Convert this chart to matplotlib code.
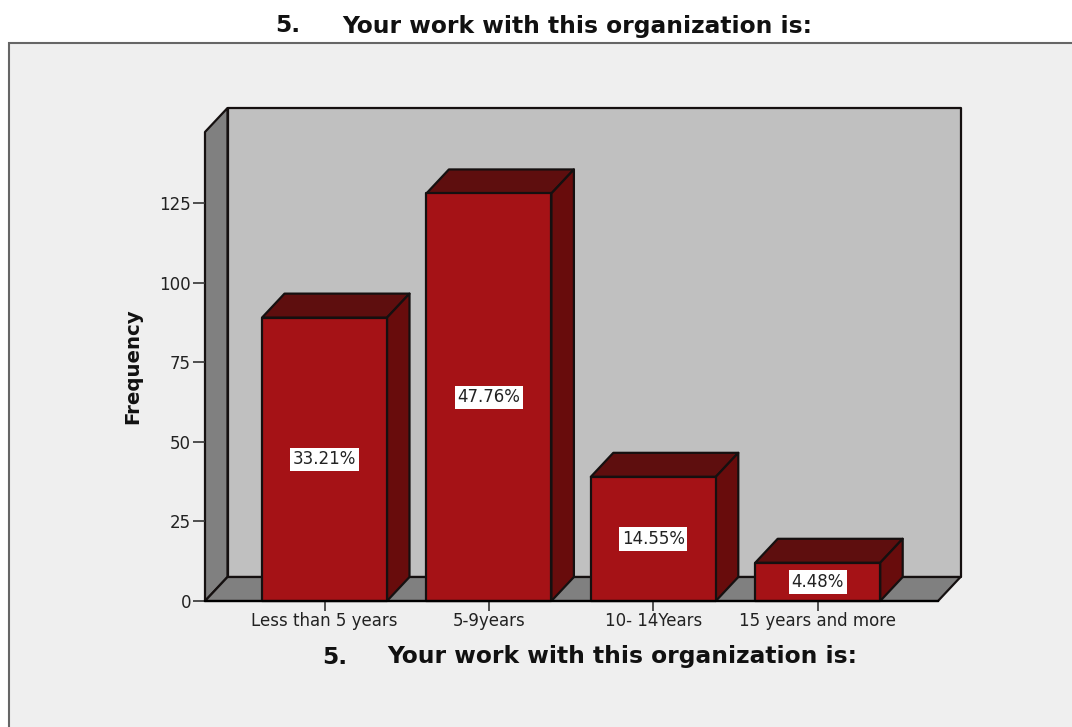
import matplotlib
matplotlib.use("Agg")
import matplotlib.pyplot as plt
from matplotlib.patches import Polygon, Rectangle

plt.rcParams["font.family"] = ["DejaVu Sans"]

categories = ["Less than 5 years", "5-9years", "10- 14Years", "15 years and more"]
frequency = [89, 128, 39, 12]
percent_labels = ["33.21%", "47.76%", "14.55%", "4.48%"]
y_ticks = [0, 25, 50, 75, 100, 125]
title_number = "5."
title_text = "Your work with this organization is:"

W, H = 1072, 727
# front plane of the 3D box, in pixels
left, right, base, top = 205, 938, 601, 132
px_per_unit = 3.184
px_per_cat = 164.4
first_center = 324.5
bar_w = 125 / px_per_cat
dx = 22.5 / px_per_cat
dy = 24 / px_per_unit

ec = "#151010"
red = "#A51216"
red_top = "#5E0E0E"
red_side = "#680C0C"

fig = plt.figure(figsize=(W / 100, H / 100), dpi=100, facecolor="white")

# outer panel
bg = fig.add_axes([0, 0, 1, 1], zorder=0)
bg.set_xlim(0, W)
bg.set_ylim(H, 0)
bg.axis("off")
bg.add_patch(Rectangle((9, 43), W + 20, H, fc="#EFEFEF", ec="#666666", lw=1.5))
bg.text(275, 26, title_number, fontsize=16.8, fontweight="bold", va="center", color="#111111")
bg.text(342, 26, title_text, fontsize=16.8, fontweight="bold", va="center", color="#111111")
bg.text(322, 657, title_number, fontsize=16.8, fontweight="bold", va="center", color="#111111")
bg.text(387, 657, title_text, fontsize=16.8, fontweight="bold", va="center", color="#111111")

ax = fig.add_axes(
    [left / W, 1 - base / H, (right - left) / W, (base - top) / H],
    facecolor="none",
    zorder=1,
)
ax.set_xlim((left - first_center) / px_per_cat, (right - first_center) / px_per_cat)
ax.set_ylim(0, (base - top) / px_per_unit)
x0, x1 = ax.get_xlim()
y1 = ax.get_ylim()[1]


def poly(pts, fc, lw=1.6, z=2):
    ax.add_patch(Polygon(pts, closed=True, fc=fc, ec=ec, lw=lw, zorder=z, clip_on=False, joinstyle="round"))


# box walls
poly([(x0 + dx, dy), (x1 + dx, dy), (x1 + dx, y1 + dy), (x0 + dx, y1 + dy)], "#C0C0C0", z=1)
poly([(x0, 0), (x0 + dx, dy), (x0 + dx, y1 + dy), (x0, y1)], "#808080", z=1)
poly([(x0, 0), (x1, 0), (x1 + dx, dy), (x0 + dx, dy)], "#808080", z=1)

for i, v in enumerate(frequency):
    a, b = i - bar_w / 2, i + bar_w / 2
    poly([(a, v), (b, v), (b + dx, v + dy), (a + dx, v + dy)], red_top, z=3)
    poly([(b, 0), (b + dx, dy), (b + dx, v + dy), (b, v)], red_side, z=3)
    poly([(a, 0), (b, 0), (b, v), (a, v)], red, z=4)
    ax.text(
        i,
        v / 2,
        percent_labels[i],
        ha="center",
        va="center",
        fontsize=12,
        color="#222222",
        zorder=5,
        bbox=dict(boxstyle="square,pad=0.16", fc="white", ec="none"),
    )

ax.set_xticks(range(len(categories)))
ax.set_xticklabels(categories, fontsize=12, color="#222222")
ax.set_yticks(y_ticks)
ax.set_yticklabels([str(t) for t in y_ticks], fontsize=12, color="#222222")
ax.tick_params(axis="x", length=7, width=1.2, color="#333333", pad=1)
ax.tick_params(axis="y", length=9, width=1.2, color="#333333", pad=1)
for s in ["top", "right"]:
    ax.spines[s].set_visible(False)
ax.spines["left"].set_visible(False)
ax.spines["bottom"].set_linewidth(1.6)
ax.spines["bottom"].set_zorder(6)
ax.set_axisbelow(False)

bg.text(133, 366, "Frequency", rotation=90, fontsize=14.2, fontweight="bold", ha="center", va="center", color="#111111")

fig.savefig("out.png", dpi=100, facecolor="white")
